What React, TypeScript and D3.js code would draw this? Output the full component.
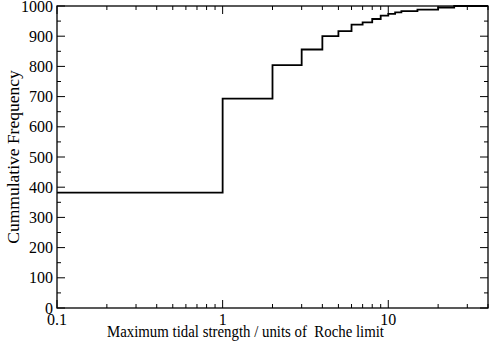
import React from 'react'
import * as d3 from 'd3'

// step positions (units of Roche limit) and cumulative counts
const stepX = [0.1, 1, 2, 3, 4, 5, 6, 7, 8, 9, 10, 11, 12, 15, 20, 25, 40]
const cumCount = [382, 693, 804, 856, 900, 917, 938, 946, 957, 968, 974, 979, 983, 988, 995, 1000, 1000]

const xTickLabels = ['0.1', '1', '10']
const yTickLabels = ['0', '100', '200', '300', '400', '500', '600', '700', '800', '900', '1000']

const W = 491
const H = 345
const m = {left: 57, right: 3, top: 6, bottom: 37}
const font = '"Liberation Serif", "Times New Roman", serif'

function App() {
    const x = d3.scaleLog().domain([0.1, 40]).range([m.left, W - m.right])
    const y = d3.scaleLinear().domain([0, 1000]).range([H - m.bottom, m.top])

    const pts: [number, number][] = stepX.map((v, i) => [v, cumCount[i]])
    const line = d3.line<[number, number]>()
        .x(d => x(d[0]))
        .y(d => y(d[1]))
        .curve(d3.curveStepAfter)

    const xTicks = x.ticks()
    const yTicks = y.ticks(20)
    const isMajorX = (v: number) => Math.abs(Math.log10(v) - Math.round(Math.log10(v))) < 1e-9
    const x0 = m.left, x1 = W - m.right, y0 = H - m.bottom, y1 = m.top

    return (
        <div style={{position: 'fixed', left: 0, top: 0}}>
            <svg width={W} height={H} style={{display: 'block', background: '#fff'}}>
                <path d={line(pts) || ''} fill="none" stroke="#000" strokeWidth={1.8} />

                {xTicks.map((v, i) => {
                    const len = isMajorX(v) ? 8 : 4
                    const px = x(v)
                    return (
                        <g key={'xt' + i} stroke="#000" strokeWidth={1}>
                            <line x1={px} x2={px} y1={y0} y2={y0 - len} />
                            <line x1={px} x2={px} y1={y1} y2={y1 + len} />
                        </g>
                    )
                })}
                {yTicks.map((v, i) => {
                    const len = v % 100 === 0 ? 8 : 4
                    const py = y(v)
                    return (
                        <g key={'yt' + i} stroke="#000" strokeWidth={1}>
                            <line x1={x0} x2={x0 + len} y1={py} y2={py} />
                            <line x1={x1} x2={x1 - len} y1={py} y2={py} />
                        </g>
                    )
                })}

                <rect x={x0} y={y1} width={x1 - x0} height={y0 - y1} fill="none" stroke="#000" strokeWidth={1.3} />

                {xTickLabels.map(t => (
                    <text key={'xl' + t} x={x(+t)} y={y0 + 17} textAnchor="middle"
                          fontFamily={font} fontSize={16}>{t}</text>
                ))}
                {yTickLabels.map(t => (
                    <text key={'yl' + t} x={x0 - 4} y={y(+t) + 5.5} textAnchor="end"
                          fontFamily={font} fontSize={16}>{t}</text>
                ))}

                <text x={107} y={H - 8} fontFamily={font} fontSize={16.5}
                      textLength={277} lengthAdjust="spacingAndGlyphs"
                      style={{whiteSpace: 'pre'}}>Maximum tidal strength / units of  Roche limit</text>
                <text transform={`translate(19,${(y0 + y1) / 2}) rotate(-90)`} textAnchor="middle"
                      fontFamily={font} fontSize={17.5}>Cummulative Frequency</text>
            </svg>
        </div>
    )
}

export default App
